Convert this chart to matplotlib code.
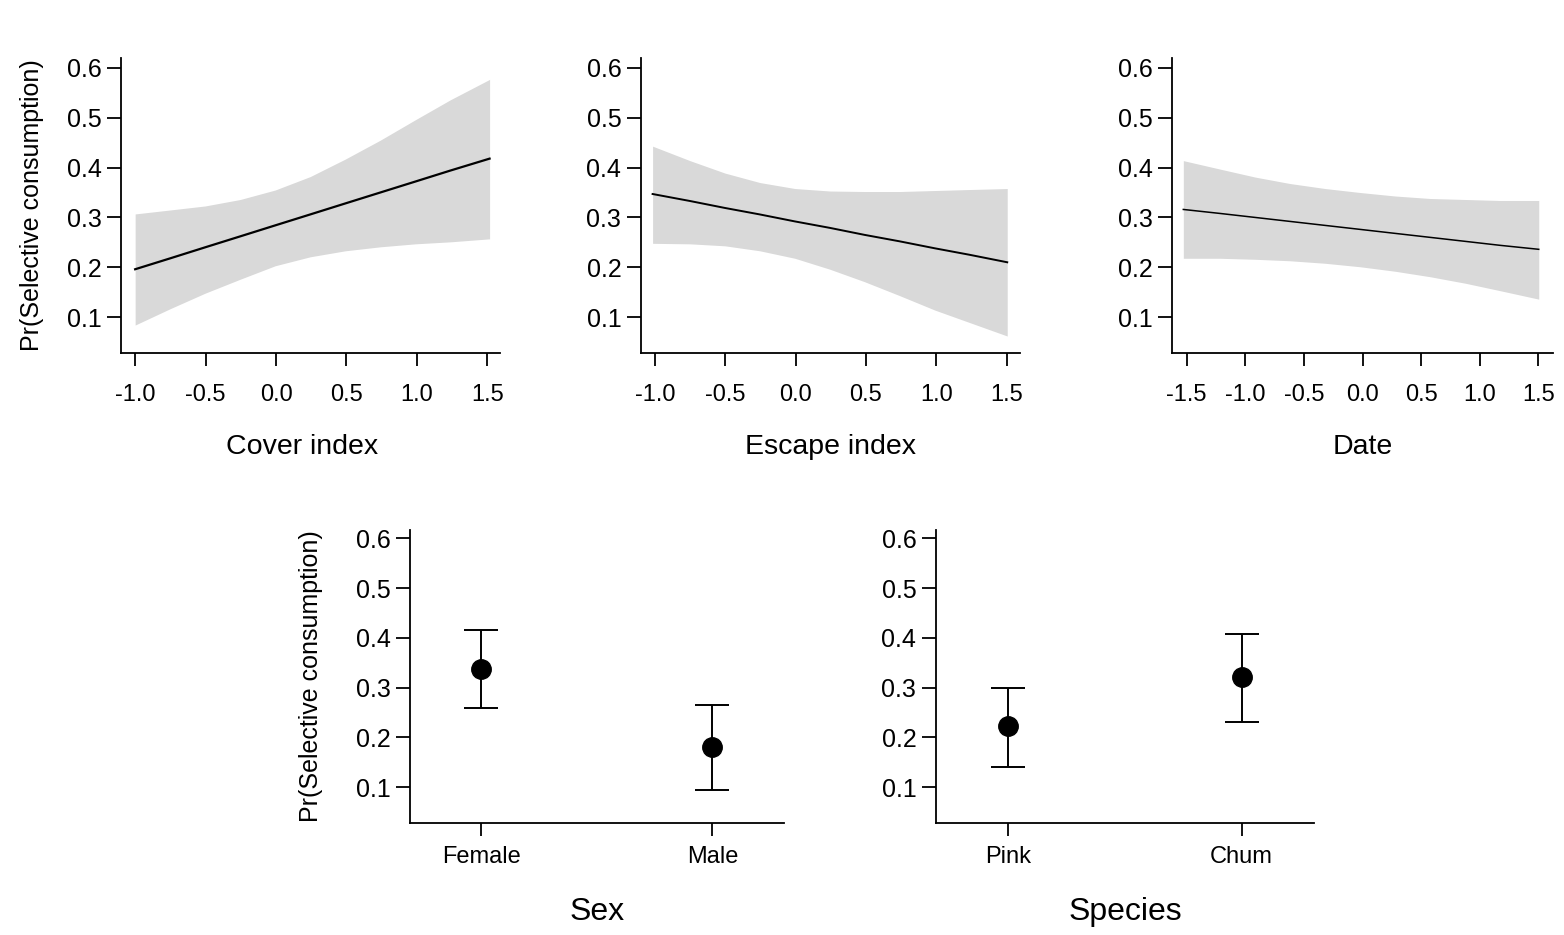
import matplotlib
matplotlib.use("Agg")
import matplotlib.pyplot as plt

plt.rcParams['font.family'] = ['Liberation Sans', 'DejaVu Sans']

# values
cover_x = [-1.0, -0.75, -0.503, -0.254, -0.006, 0.243, 0.491, 0.74, 0.989, 1.237, 1.516]
cover_fit = [0.196, 0.218, 0.240, 0.262, 0.284, 0.306, 0.328, 0.350, 0.372, 0.394, 0.418]
cover_hi = [0.307, 0.315, 0.323, 0.336, 0.355, 0.382, 0.417, 0.455, 0.496, 0.536, 0.577]
cover_lo = [0.084, 0.117, 0.148, 0.176, 0.203, 0.221, 0.233, 0.241, 0.247, 0.251, 0.257]

escape_x = [-1.016, -0.751, -0.502, -0.254, -0.005, 0.244, 0.49, 0.74, 0.99, 1.237, 1.504]
escape_fit = [0.347, 0.333, 0.319, 0.306, 0.292, 0.279, 0.265, 0.252, 0.238, 0.225, 0.210]
escape_hi = [0.443, 0.414, 0.389, 0.370, 0.358, 0.353, 0.352, 0.352, 0.354, 0.356, 0.358]
escape_lo = [0.248, 0.247, 0.243, 0.233, 0.218, 0.196, 0.171, 0.143, 0.114, 0.089, 0.062]

date_x = [-1.529, -1.216, -0.917, -0.619, -0.32, -0.021, 0.277, 0.576, 0.875, 1.173, 1.503]
date_fit = [0.316, 0.308, 0.300, 0.292, 0.284, 0.276, 0.268, 0.260, 0.252, 0.244, 0.236]
date_hi = [0.414, 0.397, 0.381, 0.368, 0.358, 0.350, 0.343, 0.338, 0.336, 0.334, 0.334]
date_lo = [0.218, 0.218, 0.216, 0.213, 0.208, 0.201, 0.192, 0.181, 0.168, 0.153, 0.136]

sex_levels = ['Female', 'Male']
sex_fit = [0.338, 0.180]
sex_lo = [0.260, 0.095]
sex_hi = [0.415, 0.265]

species_levels = ['Pink', 'Chum']
species_fit = [0.222, 0.322]
species_lo = [0.140, 0.230]
species_hi = [0.300, 0.407]

yticks = [0.1, 0.2, 0.3, 0.4, 0.5, 0.6]
ylab = 'Pr(Selective consumption)'
band_col = '#d9d9d9'

fig = plt.figure(figsize=(15.64, 9.35), dpi=100)


def style_axes(ax, xpad, xlen):
    for s in ['top', 'right']:
        ax.spines[s].set_visible(False)
    for s in ['left', 'bottom']:
        ax.spines[s].set_linewidth(1.3)
    ax.set_yticks(yticks)
    ax.set_yticklabels(['%.1f' % v for v in yticks])
    ax.tick_params(axis='y', length=10, width=1.3, pad=4, labelsize=18)
    ax.tick_params(axis='x', length=xlen, width=1.3, pad=xpad, labelsize=17)


def curve_panel(rect, x, fit, lo, hi, xlim, xticks, xlabel, lw, ylabel=False, labx=0.5):
    ax = fig.add_axes(rect)
    ax.fill_between(x, lo, hi, color=band_col, linewidth=0)
    ax.plot(x, fit, color='black', linewidth=lw)
    ax.set_xlim(*xlim)
    ax.set_ylim(0.028, 0.62)
    ax.set_xticks(xticks)
    ax.set_xticklabels(['%.1f' % v for v in xticks])
    style_axes(ax, 13, 9.5)
    ax.set_xlabel(xlabel, fontsize=20.5)
    ax.xaxis.set_label_coords(labx, -0.319)
    ax.xaxis.label.set_va('center')
    if ylabel:
        ax.set_ylabel(ylab, fontsize=18)
        ax.yaxis.set_label_coords(-0.236, 0.5)
        ax.yaxis.label.set_va('center')
    return ax


def point_panel(rect, levels, fit, lo, hi, xlabel, ylabel=False):
    ax = fig.add_axes(rect)
    xs = list(range(len(levels)))
    err = [[f - l for f, l in zip(fit, lo)], [h - f for f, h in zip(fit, hi)]]
    ax.errorbar(xs, fit, yerr=err, fmt='o', color='black', markersize=14,
                elinewidth=1.4, capsize=12, capthick=1.4)
    ax.set_xlim(-0.31, 1.31)
    ax.set_ylim(0.028, 0.617)
    ax.set_xticks(xs)
    ax.set_xticklabels(levels)
    style_axes(ax, 7, 9.5)
    ax.set_xlabel(xlabel, fontsize=23)
    ax.xaxis.set_label_coords(0.5, -0.304)
    ax.xaxis.label.set_va('center')
    if ylabel:
        ax.set_ylabel(ylab, fontsize=18)
        ax.yaxis.set_label_coords(-0.264, 0.5)
        ax.yaxis.label.set_va('center')
    return ax


curve_panel([0.0774, 0.6225, 0.2423, 0.3155], cover_x, cover_fit, cover_lo, cover_hi,
            (-1.1, 1.59), [-1.0, -0.5, 0.0, 0.5, 1.0, 1.5], 'Cover index', 1.6,
            ylabel=True, labx=0.477)
curve_panel([0.4097, 0.6225, 0.2425, 0.3155], escape_x, escape_fit, escape_lo, escape_hi,
            (-1.1, 1.595), [-1.0, -0.5, 0.0, 0.5, 1.0, 1.5], 'Escape index', 1.4)
curve_panel([0.7494, 0.6225, 0.2436, 0.3155], date_x, date_fit, date_lo, date_hi,
            (-1.625, 1.625), [-1.5, -1.0, -0.5, 0.0, 0.5, 1.0, 1.5], 'Date', 1.1)

point_panel([0.2621, 0.1198, 0.2391, 0.3134], sex_levels, sex_fit, sex_lo, sex_hi,
            'Sex', ylabel=True)
point_panel([0.5983, 0.1198, 0.2419, 0.3134], species_levels, species_fit, species_lo,
            species_hi, 'Species')

fig.savefig('out.png', dpi=100)
